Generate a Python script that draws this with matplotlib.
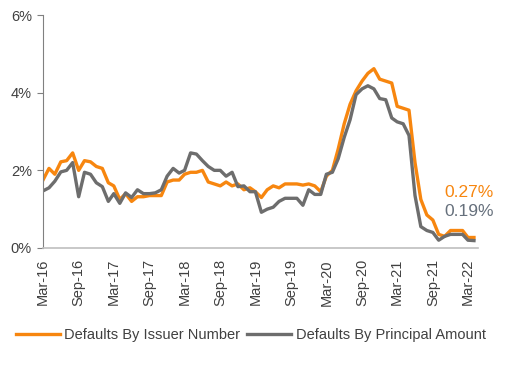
import numpy as np
import pandas as pd
import matplotlib
matplotlib.use("Agg")
import matplotlib.pyplot as plt
import matplotlib.dates as mdates
from matplotlib.ticker import FuncFormatter

# Monthly readings, Mar-2016 .. Apr-2022 (default rates, %)
dates = pd.date_range("2016-03-01", periods=74, freq="MS")

issuer_number = [
    1.75, 2.05, 1.90, 2.22, 2.25, 2.45, 2.00, 2.25, 2.22, 2.10,
    2.05, 1.68, 1.60, 1.25, 1.40, 1.20, 1.32, 1.32, 1.35, 1.35,
    1.35, 1.70, 1.75, 1.75, 1.90, 1.95, 1.95, 2.00, 1.70, 1.65,
    1.60, 1.70, 1.60, 1.65, 1.50, 1.55, 1.45, 1.30, 1.50, 1.60,
    1.55, 1.65, 1.65, 1.65, 1.62, 1.65, 1.60, 1.45, 1.85, 2.00,
    2.55, 3.20, 3.70, 4.05, 4.30, 4.50, 4.62, 4.35, 4.30, 4.25,
    3.65, 3.60, 3.55, 2.20, 1.25, 0.85, 0.72, 0.35, 0.30, 0.45,
    0.45, 0.45, 0.27, 0.27,
]

principal_amount = [
    1.47, 1.55, 1.72, 1.96, 2.00, 2.20, 1.32, 1.95, 1.90, 1.68,
    1.58, 1.20, 1.40, 1.15, 1.42, 1.30, 1.50, 1.40, 1.40, 1.42,
    1.50, 1.85, 2.05, 1.93, 2.00, 2.45, 2.42, 2.25, 2.10, 2.00,
    2.00, 1.85, 1.95, 1.58, 1.60, 1.45, 1.45, 0.92, 1.00, 1.05,
    1.20, 1.28, 1.28, 1.28, 1.10, 1.50, 1.38, 1.38, 1.90, 1.95,
    2.30, 2.85, 3.30, 3.95, 4.10, 4.18, 4.10, 3.85, 3.82, 3.35,
    3.25, 3.20, 2.90, 1.35, 0.55, 0.45, 0.40, 0.20, 0.30, 0.35,
    0.35, 0.35, 0.20, 0.19,
]

orange = "#F7860F"
grey = "#6D6D6D"

plt.rcParams["font.family"] = ["Liberation Sans", "DejaVu Sans"]

fig = plt.figure(figsize=(5.28, 3.69), dpi=100)
ax = fig.add_axes([0.0814, 0.328, 0.824, 0.631])

ax.plot(dates, issuer_number, color=orange, lw=2.4, label="Defaults By Issuer Number")
ax.plot(dates, principal_amount, color=grey, lw=2.4, label="Defaults By Principal Amount")

# end-of-series value labels
ax.text(pd.Timestamp("2021-11-01"), 1.44, f"{issuer_number[-1]:.2f}%",
        color=orange, fontsize=12.5, va="center", ha="left")
ax.text(pd.Timestamp("2021-11-01"), 0.93, f"{principal_amount[-1]:.2f}%",
        color="#66707C", fontsize=12.5, va="center", ha="left")

ax.set_ylim(0, 6)
ax.set_yticks([0, 2, 4, 6])
ax.yaxis.set_major_formatter(FuncFormatter(lambda v, p: f"{v:.0f}%"))
ax.set_xlim(pd.Timestamp("2016-03-01"), pd.Timestamp("2022-04-22"))

xticks = pd.date_range("2016-03-01", "2022-03-01", freq="6MS")
ax.set_xticks(xticks)
ax.xaxis.set_major_formatter(mdates.DateFormatter("%b-%y"))
for lab in ax.get_xticklabels():
    lab.set_rotation(90)

ax.tick_params(axis="x", length=0, pad=8, labelsize=10.5, labelcolor="#404040")
ax.tick_params(axis="y", length=4, width=0.8, color="#808080", pad=4,
               labelsize=10.5, labelcolor="#404040")

for s in ["top", "right"]:
    ax.spines[s].set_visible(False)
ax.spines["left"].set_color("#808080")
ax.spines["bottom"].set_color("#BFBFBF")
ax.spines["bottom"].set_linewidth(1.2)

fig.legend(loc="center", bbox_to_anchor=(0.475, 0.092), ncol=2, frameon=False,
           fontsize=10.5, handlelength=3.0, handletextpad=0.3, columnspacing=0.5,
           labelcolor="#404040")

fig.savefig("out.png", dpi=100)
